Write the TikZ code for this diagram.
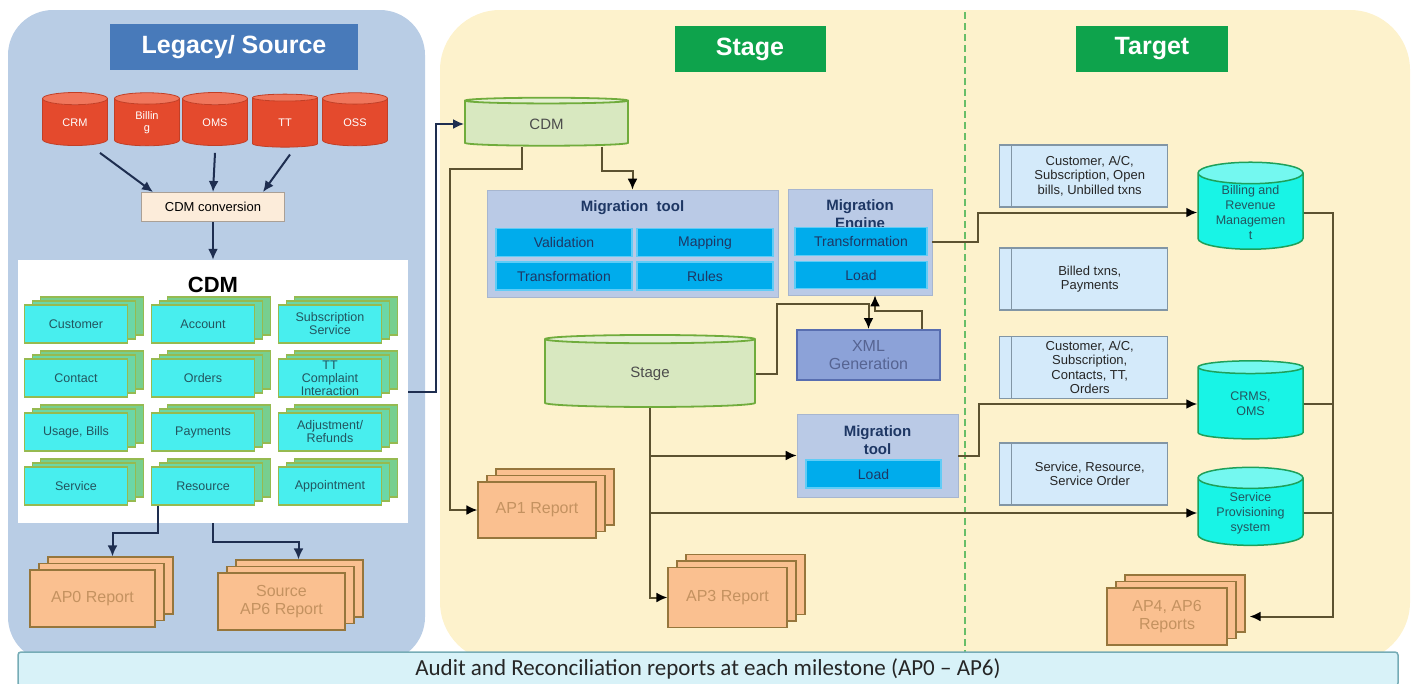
\documentclass[tikz,border=0pt]{standalone}
\usepackage{fontspec}
\setmainfont{Liberation Sans}
\newfontfamily\bannerfont{Carlito}
\usepackage{tikz}
\usetikzlibrary{arrows, arrows.meta, shapes, shapes.geometric, shapes.multipart, positioning, shadows}

\definecolor{legacy_bg}{RGB}{185,205,229}
\definecolor{stage_bg}{RGB}{253,242,204}
\definecolor{legacy_blue}{RGB}{72,122,186}
\definecolor{head_green}{RGB}{14,163,76}
\definecolor{db_red}{RGB}{228,74,45}
\definecolor{db_red_top}{RGB}{240,118,92}
\definecolor{conv_fill}{RGB}{252,236,218}
\definecolor{conv_line}{RGB}{170,160,150}
\definecolor{entity_cyan}{RGB}{72,238,238}
\definecolor{entity_olive}{RGB}{150,186,80}
\definecolor{entity_text}{RGB}{35,85,95}
\definecolor{report_fill}{RGB}{250,192,144}
\definecolor{report_line}{RGB}{150,118,60}
\definecolor{report_text}{RGB}{196,146,96}
\definecolor{stage_db_fill}{RGB}{216,232,192}
\definecolor{stage_db_line}{RGB}{112,172,60}
\definecolor{tool_fill}{RGB}{186,202,230}
\definecolor{cell_fill}{RGB}{0,172,236}
\definecolor{cell_line}{RGB}{96,204,246}
\definecolor{tool_text}{RGB}{30,55,100}
\definecolor{xml_fill}{RGB}{140,162,216}
\definecolor{xml_line}{RGB}{88,110,176}
\definecolor{xml_text}{RGB}{86,100,146}
\definecolor{target_fill}{RGB}{212,234,250}
\definecolor{target_line}{RGB}{130,150,165}
\definecolor{cyan_db}{RGB}{24,244,230}
\definecolor{cyan_db_line}{RGB}{30,160,90}
\definecolor{conn_dark}{RGB}{30,46,80}
\definecolor{conn_olive}{RGB}{92,82,48}
\definecolor{split_green}{RGB}{104,190,104}
\definecolor{banner_fill}{RGB}{216,242,248}
\definecolor{banner_line}{RGB}{118,172,182}

\begin{document}
\begin{tikzpicture}[x=1pt, y=-1pt]
	\tikzstyle{header_style}=[rectangle, text=white, font=\fontsize{25}{28}\selectfont\bfseries, minimum height=46pt]
	\tikzstyle{red_db_style}=[cylinder, shape border rotate=90, aspect=0.45, draw=db_red!85!black, line width=0.8pt, cylinder uses custom fill, cylinder body fill=db_red, cylinder end fill=db_red_top, minimum width=65pt, minimum height=53pt, text=white, font=\fontsize{11}{12}\selectfont, align=center, inner sep=1pt]
	\tikzstyle{conv_style}=[rectangle, draw=conv_line, line width=1pt, fill=conv_fill, minimum width=143pt, minimum height=29pt, font=\fontsize{13}{15}\selectfont]
	\tikzstyle{entity_style}=[rectangle, draw=entity_olive, line width=1.2pt, fill=entity_cyan, minimum width=103pt, minimum height=38pt, text=entity_text, font=\fontsize{12.5}{13}\selectfont, align=center, inner sep=1pt,
		copy shadow={shadow xshift=16pt, shadow yshift=8pt, fill=entity_olive!60!entity_cyan, draw=entity_olive},
		copy shadow={shadow xshift=8pt, shadow yshift=4pt, fill=entity_olive!45!entity_cyan, draw=entity_olive}]
	\tikzstyle{report_style}=[rectangle, draw=report_line, line width=1.2pt, fill=report_fill, text=report_text, font=\fontsize{16}{18}\selectfont, align=center,
		copy shadow={shadow xshift=18pt, shadow yshift=13pt, fill=report_fill, draw=report_line},
		copy shadow={shadow xshift=9pt, shadow yshift=6.5pt, fill=report_fill, draw=report_line}]
	\tikzstyle{stage_db_style}=[cylinder, shape border rotate=90, draw=stage_db_line, line width=1.8pt, cylinder uses custom fill, cylinder body fill=stage_db_fill, cylinder end fill=stage_db_fill!70!white, text=black!70, font=\fontsize{15}{17}\selectfont]
	\tikzstyle{tool_style}=[rectangle, fill=tool_fill, draw=tool_fill!90!black, line width=0.6pt]
	\tikzstyle{tool_title_style}=[text=tool_text, font=\fontsize{15}{18}\selectfont\bfseries, align=center, inner sep=1pt]
	\tikzstyle{cell_style}=[rectangle, fill=cell_fill, draw=cell_line, line width=1.5pt, minimum width=136pt, minimum height=28pt, text=tool_text, font=\fontsize{14}{16}\selectfont]
	\tikzstyle{xml_style}=[rectangle, fill=xml_fill, draw=xml_line, line width=2pt, minimum width=143pt, minimum height=50pt, text=xml_text, font=\fontsize{16}{18}\selectfont, align=center]
	\tikzstyle{target_style}=[draw=target_line, line width=1.2pt, fill=target_fill, rectangle split, rectangle split horizontal, rectangle split parts=2, minimum height=62pt, inner xsep=3pt, text=black!85, font=\fontsize{13}{14.5}\selectfont]
	\tikzstyle{cyan_db_style}=[cylinder, shape border rotate=90, aspect=0.3, draw=cyan_db_line, line width=1.5pt, cylinder uses custom fill, cylinder body fill=cyan_db, cylinder end fill=cyan_db!60!white, minimum width=105pt, minimum height=78pt, text=entity_text, font=\fontsize{12.5}{15}\selectfont, align=center, inner sep=1pt]
	\tikzstyle{left_conn}=[draw=conn_dark, line width=2pt, -{Latex[length=11pt, width=10pt]}]
	\tikzstyle{stage_conn}=[draw=conn_olive, line width=2pt, -{Latex[length=11pt, width=10pt, color=black]}]
	\tikzstyle{banner_style}=[rectangle, rounded corners=3pt, fill=banner_fill, draw=banner_line, line width=1.5pt, minimum width=1380pt, minimum height=34pt, text=black!85, font=\bannerfont\fontsize{23}{26}\selectfont]
	\useasboundingbox (0,0) rectangle (1418,683);
	% panels
	\fill[legacy_bg, rounded corners=45pt] (8,10) rectangle (425,662);
	\fill[stage_bg, rounded corners=60pt] (440,10) rectangle (1410,662);
	\draw[split_green, line width=1.5pt, dash pattern=on 7pt off 4pt] (965,12) -- (965,652);
	% headers
	\node[header_style, fill=legacy_blue, minimum width=248pt] (legacy_head) at (234,47) {Legacy/ Source};
	\node[header_style, fill=head_green, minimum width=151pt] (stage_head) at (750,49) {Stage};
	\node[header_style, fill=head_green, minimum width=152pt] (target_head) at (1152,49) {Target};
	% source systems
	\foreach \x/\lbl [count=\i] in {75/CRM, 147/{Billin\\g}, 215/OMS, 285/TT, 355/OSS}
		\node[red_db_style] (src_\i) at (\x,123) {\lbl};
	% cdm conversion
	\node[conv_style] (cdm_conv) at (213,207) {CDM conversion};
	\draw[left_conn] ([xshift=25pt,yshift=-7pt]src_1.270) -- ([xshift=-60pt]cdm_conv.north);
	\draw[left_conn] ([yshift=-7pt]src_3.270) -- (cdm_conv.north);
	\draw[left_conn] ([xshift=5pt,yshift=-7pt]src_4.270) -- ([xshift=50pt]cdm_conv.north);
	% cdm entities
	\node[fill=white, minimum width=390pt, minimum height=263pt] (cdm_box) at (213,391.5) {};
	\node[font=\fontsize{22}{24}\selectfont\bfseries] (cdm_title) at (213,285) {CDM};
	\draw[left_conn] (cdm_conv.south) -- (cdm_box.north);
	\foreach \lbl [count=\i from 0] in {Customer, Account, {Subscription\\Service}, Contact, Orders, {TT\\Complaint\\Interaction}, {Usage, Bills}, Payments, {Adjustment/\\Refunds}, Service, Resource, Appointment}{
		\pgfmathtruncatemacro{\ecol}{mod(\i,3)}
		\pgfmathtruncatemacro{\erow}{\i/3}
		\node[entity_style] (entity_\i) at (76+127*\ecol, 324+54*\erow) {\lbl};
	}
	% legacy reports
	\node[report_style, minimum width=125pt, minimum height=57pt] (ap0_report) at (92.5,598.5) {AP0 Report};
	\node[report_style, minimum width=127pt, minimum height=57pt] (ap6_report) at (281.5,601.5) {Source\\AP6 Report};
	\draw[left_conn] ([xshift=-45pt]entity_10.south) -- ++(0,27) -| ([xshift=20pt,yshift=13pt]ap0_report.north);
	\draw[left_conn] (cdm_box.south) -- ++(0,19) -| ([xshift=17pt,yshift=13pt]ap6_report.north);
	% stage
	\node[stage_db_style, minimum width=163pt, minimum height=48pt, aspect=0.14] (stage_cdm) at (546.5,124) {CDM};
	\draw[left_conn] (cdm_box.east) -- ++(28,0) |- (stage_cdm.180);
	\node[tool_style, minimum width=291pt, minimum height=107pt] (mig_tool) at (632.5,243.5) {};
	\node[tool_title_style, below=10pt of mig_tool.north] (mig_tool_title) {Migration\ \ tool};
	\node[cell_style] (cell_valid) at (564,242.5) {Validation};
	\node[cell_style] (cell_map) at (705,242.5) {Mapping};
	\node[cell_style] (cell_trans) at (564,276) {Transformation};
	\node[cell_style] (cell_rules) at (705,276) {Rules};
	\node[tool_style, minimum width=144pt, minimum height=106pt] (mig_engine) at (860,242) {};
	\node[tool_title_style, below=10pt of mig_engine.north] (mig_engine_title) {Migration\\Engine};
	\node[cell_style, minimum width=132pt] (engine_trans) at (861,241.5) {Transformation};
	\node[cell_style, minimum width=132pt, minimum height=27pt] (engine_load) at (861,275) {Load};
	\node[xml_style] (xml_gen) at (868.5,355) {XML\\Generation};
	\node[stage_db_style, minimum width=210pt, minimum height=72pt, aspect=0.18] (stage_db) at (650,374) {Stage};
	\node[tool_style, minimum width=161pt, minimum height=83pt] (mig_tool2) at (877.5,455.5) {};
	\node[tool_title_style, below=11pt of mig_tool2.north] (mig_tool2_title) {Migration\\tool};
	\node[cell_style, minimum width=135pt] (tool2_load) at (873.5,474) {Load};
	\node[report_style, minimum width=118pt, minimum height=56pt] (ap1_report) at (537,510) {AP1 Report};
	\node[report_style, minimum width=119pt, minimum height=60pt] (ap3_report) at (727.5,597.5) {AP3 Report};
	% target
	\node[target_style] (tgt_1) at (1083.5,176) {\hspace*{16pt}\nodepart{two}\parbox{149pt}{\centering Customer, A/C,\\ Subscription, Open\\ bills, Unbilled txns}};
	\node[target_style] (tgt_2) at (1083.5,279) {\hspace*{16pt}\nodepart{two}\parbox{149pt}{\centering Billed txns,\\ Payments}};
	\node[target_style] (tgt_3) at (1083.5,367.5) {\hspace*{16pt}\nodepart{two}\parbox{149pt}{\centering Customer, A/C,\\ Subscription,\\ Contacts, TT,\\ Orders}};
	\node[target_style] (tgt_4) at (1083.5,474) {\hspace*{16pt}\nodepart{two}\parbox{149pt}{\centering Service, Resource,\\ Service Order}};
	\node[cyan_db_style, minimum height=76pt] (bill_db) at (1250.5,212.5) {Billing and\\Revenue\\Managemen\\t};
	\node[cyan_db_style] (crms_db) at (1250.5,404) {CRMS,\\OMS};
	\node[cyan_db_style] (sp_db) at (1250.5,513) {Service\\Provisioning\\system};
	\node[report_style, minimum width=120pt, minimum height=57pt] (ap4_report) at (1167,616.5) {AP4, AP6\\Reports};
	% connect: stage
	\draw[stage_conn] ([xshift=-25pt]stage_cdm.270) -- ++(0,22) -- ++(-72,0) |- (ap1_report.west);
	\draw[stage_conn] ([xshift=55pt]stage_cdm.270) -- ++(0,24) -| (mig_tool.north);
	\draw[stage_conn] (stage_db.0) -- ++(21,0) |- ([yshift=25pt]xml_gen.north) -- (xml_gen.north);
	\draw[stage_conn] ([xshift=53pt]xml_gen.north) -- ++(0,-18) -| ([xshift=15pt]mig_engine.south);
	\draw[stage_conn] (stage_db.270) |- (ap3_report.west);
	\draw[stage_conn] (stage_db.270 |- mig_tool2.west) -- (mig_tool2.west);
	\draw[stage_conn] (stage_db.270 |- sp_db.180) -- (sp_db.180);
	% connect: target
	\draw[stage_conn] (mig_engine.east) -- ++(46,0) |- (bill_db.180);
	\draw[stage_conn] (mig_tool2.east) -- ++(21,0) |- (crms_db.180);
	\draw[stage_conn] (bill_db.0) -- ++(29,0) |- ([xshift=22pt]ap4_report.east);
	\draw[stage_conn, -] (crms_db.0) -- ++(29,0);
	\draw[stage_conn, -] (sp_db.0) -- ++(29,0);
	% audit banner
	\node[banner_style] (banner) at (708,669) {Audit and Reconciliation reports at each milestone (AP0 – AP6)};
\end{tikzpicture}
\end{document}
